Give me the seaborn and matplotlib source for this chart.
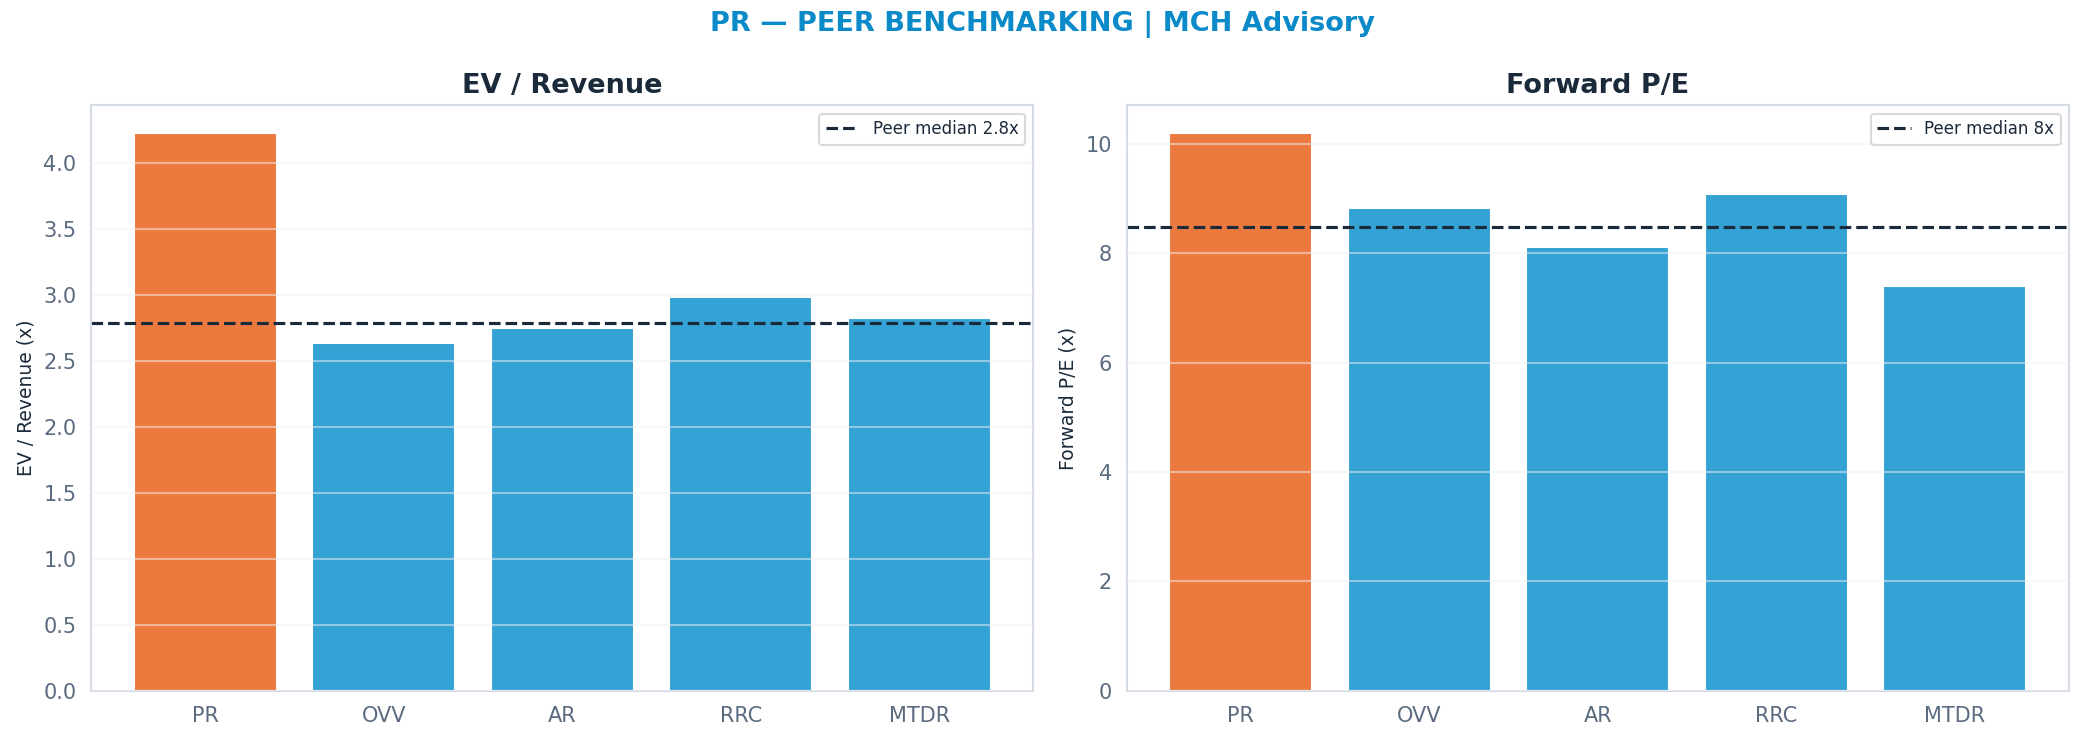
import numpy as np
import pandas as pd
import matplotlib
matplotlib.use("Agg")
import matplotlib.pyplot as plt
import seaborn as sns

# peer data
tickers = ["PR", "OVV", "AR", "RRC", "MTDR"]
ev_revenue = [4.23, 2.64, 2.75, 2.99, 2.83]
fwd_pe = [10.19, 8.83, 8.11, 9.08, 7.40]

ORANGE = "#EC7A3F"
BLUE = "#34A2D4"
DARK = "#1B2A3A"
GREY = "#5A6B80"
SPINE = "#D5DCE6"

sns.set_style("white")
plt.rcParams["font.family"] = ["DejaVu Sans"]

df = pd.DataFrame({"ticker": tickers, "ev_rev": ev_revenue, "pe": fwd_pe})
palette = {t: (ORANGE if t == "PR" else BLUE) for t in tickers}

fig, axes = plt.subplots(1, 2, figsize=(13.893, 4.94), dpi=150)
fig.subplots_adjust(left=0.0437, right=0.9928, top=0.858, bottom=0.0675, wspace=0.0987)

panels = [
    (axes[0], "ev_rev", "EV / Revenue", "EV / Revenue (x)", "{:.1f}"),
    (axes[1], "pe", "Forward P/E", "Forward P/E (x)", "{:.0f}"),
]

for ax, col, title, ylab, fmt in panels:
    sns.barplot(data=df, x="ticker", y=col, hue="ticker", palette=palette,
                legend=False, ax=ax, width=0.8, saturation=1)
    med = np.median(df[col].values[1:])
    ax.axhline(med, color=DARK, ls="--", lw=1.5, label=f"Peer median {fmt.format(med)}x")
    ax.set_xlim(-0.64, len(tickers) - 1 + 0.64)
    ax.set_ylim(0, df[col].max() * 1.05)
    ax.set_title(title, fontsize=13, fontweight="bold", color=DARK)
    ax.set_xlabel("")
    ax.set_ylabel(ylab, fontsize=9, color=DARK)
    ax.tick_params(axis="both", colors=GREY, labelsize=10, length=3.5, width=0.8)
    ax.grid(axis="y", color="#EEF1F4", alpha=0.5, lw=1)
    ax.set_axisbelow(False)
    for s in ax.spines.values():
        s.set_color(SPINE)
        s.set_linewidth(1)
    leg = ax.legend(loc="upper right", fontsize=8, frameon=True, labelcolor=DARK)
    leg.get_frame().set_edgecolor("#D0D0D0")

fig.suptitle("PR — PEER BENCHMARKING | MCH Advisory", fontsize=13,
             fontweight="bold", color="#0A8AC8", y=0.985)

plt.savefig("out.png", dpi=150)
